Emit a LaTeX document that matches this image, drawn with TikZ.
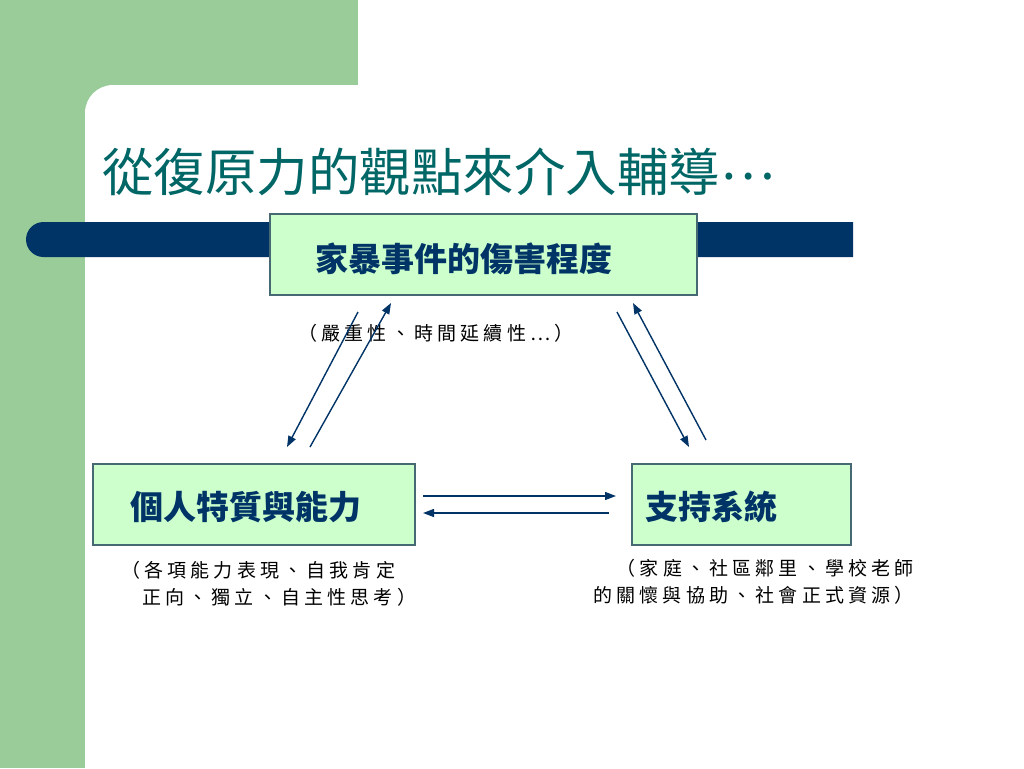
\documentclass[tikz,border=0pt]{standalone}
\usepackage{fontspec}
\usepackage{xcolor}
\usepackage{tikz}
\usetikzlibrary{arrows.meta,positioning}
\newfontfamily\cjk{Noto Sans CJK TC}
\newfontfamily\cjknote[LetterSpace=22]{Noto Sans CJK TC}
\definecolor{sage}{RGB}{153,204,153}
\definecolor{navy}{RGB}{0,51,102}
\definecolor{titleteal}{RGB}{0,102,102}
\definecolor{boxfill}{RGB}{204,255,204}
\definecolor{boxline}{RGB}{70,105,115}
\tikzset{box/.style={rectangle,draw=boxline,fill=boxfill,line width=1.5pt,minimum height=81pt,align=left,text=navy,text depth=0pt,font=\cjk\bfseries\fontsize{33}{36}\selectfont},
note/.style={inner sep=0pt,font=\cjknote\fontsize{19}{27}\selectfont}}

\begin{document}
\begin{tikzpicture}[x=1pt,y=-1pt,>={Triangle[length=11pt,width=8pt]}]
    \useasboundingbox (0,0) rectangle (1024,768);
    \clip (0,0) rectangle (1024,768);
    % background
    \fill[sage] (0,0) rectangle (1024,768);
    \fill[white,rounded corners=28pt] (85,85) rectangle (1100,850);
    \fill[white] (358,-10) rectangle (1100,90);
    \fill[navy,rounded corners=17.5pt] (853,222) -- (26,222) -- (26,257) -- (853,257);

    \node[anchor=west,inner sep=0pt,text=titleteal,font=\cjk\fontsize{51.5}{60}\selectfont] (title) at (102,172) {從復原力的觀點來介入輔導\raisebox{12pt}{…}};

    \node[box,text width=337pt,inner xsep=45pt,text height=34pt] (harm) at (483.5,254.5) {家暴事件的傷害程度};
    \node[box,text width=248pt,inner xsep=37pt,text height=29pt] (self) at (254,504.5) {個人特質與能力};
    \node[box,text width=193pt,inner xsep=13pt,text height=29pt] (supp) at (741.5,504.5) {支持系統};

    \node[note] (harmnote) at (436,333) {（嚴重性、時間延續性…）};
    \node[note,anchor=west,align=left] (selfnote) at (121,583.5) {（各項能力表現、自我肯定\\\hspace{21pt}正向、獨立、自主性思考）};
    \node[note,anchor=east,align=right] (suppnote) at (914,581.5) {（家庭、社區鄰里、學校老師\\的關懷與協助、社會正式資源）};

    \coordinate (a1) at (358,312);
    \coordinate (a2) at (287,447);
    \coordinate (b1) at (310,447);
    \coordinate (b2) at (391,303);
    \coordinate (c1) at (617,312);
    \coordinate (c2) at (689,447);
    \coordinate (d1) at (706,440);
    \coordinate (d2) at (633,303);
    \coordinate (e1) at (423,496);
    \coordinate (e2) at (616,496);
    \coordinate (f1) at (609,513);
    \coordinate (f2) at (423,513);

    \draw [->,navy,line width=1.4pt] (a1) to [] (a2);
    \draw [->,navy,line width=1.4pt] (b1) to [] (b2);
    \draw [->,navy,line width=1.4pt] (c1) to [] (c2);
    \draw [->,navy,line width=1.4pt] (d1) to [] (d2);
    \draw [->,navy,line width=1.4pt] (e1) to [] (e2);
    \draw [->,navy,line width=1.4pt] (f1) to [] (f2);
\end{tikzpicture}
\end{document}
